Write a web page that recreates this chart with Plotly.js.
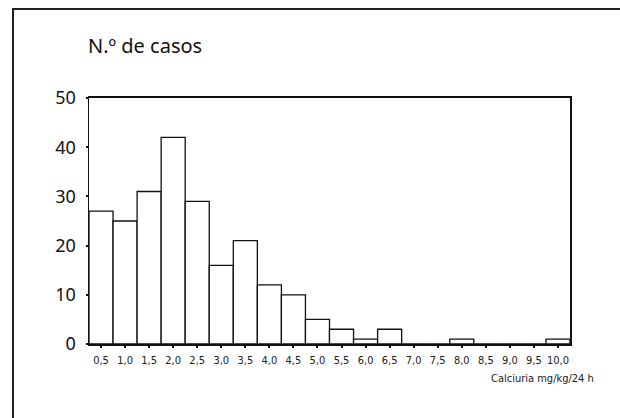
<!DOCTYPE html>
<html>
<head>
<meta charset="utf-8">
<script src="https://cdn.plot.ly/plotly-3.0.1.min.js"></script>
<style>html,body{margin:0;padding:0;background:#fff;}</style>
</head>
<body>
<div id="chart" style="width:620px;height:418px;"></div>
<script>
const binCenters = [0.5,1.0,1.5,2.0,2.5,3.0,3.5,4.0,4.5,5.0,5.5,6.0,6.5,7.0,7.5,8.0,8.5,9.0,9.5,10.0];
const tickLabels = ["0,5","1,0","1,5","2,0","2,5","3,0","3,5","4,0","4,5","5,0","5,5","6,0","6,5","7,0","7,5","8,0","8,5","9,0","9,5","10,0"];
const casos = [27,25,31,42,29,16,21,12,10,5,3,1,3,0,0,1,0,0,0,1];
const yTicks = [0,10,20,30,40,50];

const trace = {
  type: 'bar',
  x: binCenters,
  y: casos,
  width: 0.5,
  marker: {color: '#ffffff', line: {color: '#111111', width: 1.3}},
  hoverinfo: 'x+y'
};

const condensed = '"DejaVu Sans Condensed"';

const layout = {
  width: 620, height: 418,
  margin: {l: 89, r: 50, t: 98, b: 74},
  paper_bgcolor: '#ffffff', plot_bgcolor: '#ffffff',
  showlegend: false,
  bargap: 0,
  xaxis: {
    range: [0.25, 10.25],
    tickvals: binCenters, ticktext: tickLabels,
    ticks: 'outside', ticklen: 2, tickwidth: 2, tickcolor: '#111',
    tickfont: {family: condensed, size: 11, color: '#222'},
    ticklabelstandoff: 3,
    showline: true, linecolor: '#111', linewidth: 2, mirror: true,
    showgrid: false, zeroline: false, fixedrange: true
  },
  yaxis: {
    range: [0, 50],
    tickvals: yTicks,
    ticks: 'outside', ticklen: 2, tickwidth: 2, tickcolor: '#111',
    tickfont: {family: '"Noto Sans", "Open Sans", sans-serif', size: 18, color: '#111'},
    ticklabelstandoff: 6,
    showline: true, linecolor: '#111', linewidth: 1.5, mirror: true,
    showgrid: false, zeroline: false, fixedrange: true
  },
  annotations: [
    {xref: 'paper', yref: 'paper', x: -0.006, y: 1.15, xanchor: 'left', yanchor: 'bottom',
     text: 'N.º de casos', showarrow: false,
     font: {family: '"Noto Sans", "Open Sans", sans-serif', size: 20, color: '#111'}},
    {xref: 'paper', yref: 'paper', x: 1.055, y: -0.105, xanchor: 'right', yanchor: 'top',
     text: 'Calciuria mg/kg/24 h', showarrow: false,
     font: {family: condensed, size: 11, color: '#222'}}
  ],
  shapes: [
    {type: 'rect', xref: 'paper', yref: 'paper',
     x0: (13-89)/481, x1: (640-89)/481, y0: (344-440)/246, y1: (344-9)/246,
     line: {color: '#222', width: 2}, fillcolor: 'rgba(0,0,0,0)', layer: 'below'}
  ]
};

Plotly.newPlot('chart', [trace], layout, {displayModeBar: false, staticPlot: true});
</script>
</body>
</html>
